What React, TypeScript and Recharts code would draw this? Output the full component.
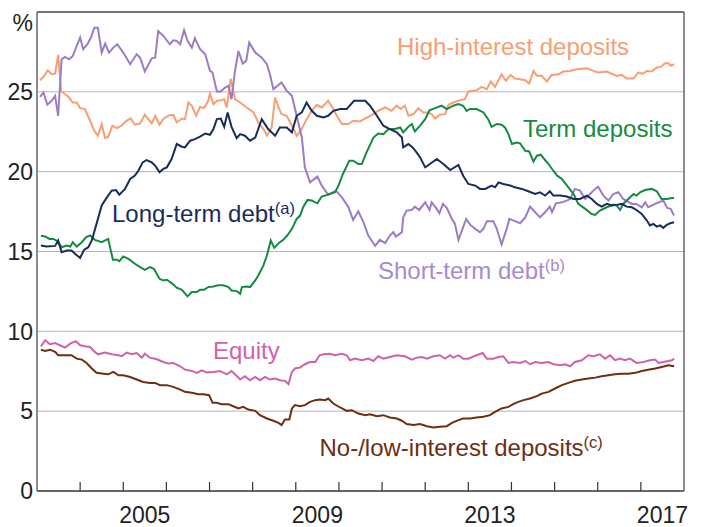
import React from 'react'
import { LineChart, Line, XAxis, YAxis, CartesianGrid, ReferenceLine } from 'recharts'

const W = 717
const H = 527
const LEFT_W = 37
const RIGHT_W = 33
const X_AXIS_H = 36
const TOP = 12
const FONT = '"Liberation Sans", Arial, Helvetica, sans-serif'

const X_DOMAIN: [number, number] = [2003, 2018]
const YEAR_TICKS = [2004, 2005, 2006, 2007, 2008, 2009, 2010, 2011, 2012, 2013, 2014, 2015, 2016, 2017]
const LABEL_YEARS = [2005, 2009, 2013, 2017]
const Y_TICKS = [0, 5, 10, 15, 20, 25, 30]
const GRID_VALUES = [5, 10, 15, 20, 25]

// [year, per cent]
const highInterest: [number, number][] = [
  [2003.07, 25.73], [2003.15, 25.94], [2003.25, 26.35], [2003.34, 26.1], [2003.42, 26.14], [2003.49, 27.31],
  [2003.56, 25.06], [2003.65, 24.85], [2003.73, 24.69], [2003.83, 24.33], [2003.92, 24.33], [2004.0, 23.98],
  [2004.11, 23.92], [2004.23, 23.19], [2004.33, 22.56], [2004.41, 22.25], [2004.5, 22.98], [2004.58, 22.1],
  [2004.65, 22.19], [2004.75, 22.88], [2004.85, 22.73], [2004.96, 22.88], [2005.06, 23.15], [2005.17, 23.35],
  [2005.27, 22.94], [2005.39, 23.02], [2005.5, 23.56], [2005.66, 23.02], [2005.74, 23.5], [2005.84, 22.94],
  [2005.94, 23.33], [2006.07, 23.54], [2006.16, 23.56], [2006.24, 23.08], [2006.36, 23.33], [2006.43, 23.29],
  [2006.51, 24.33], [2006.59, 24.13], [2006.69, 23.5], [2006.78, 24.06], [2006.87, 23.98], [2006.97, 24.44],
  [2007.01, 24.89], [2007.09, 24.23], [2007.17, 24.44], [2007.28, 24.48], [2007.34, 24.54], [2007.4, 24.02],
  [2007.49, 25.83], [2007.59, 24.54], [2007.71, 24.33], [2007.86, 24.02], [2008.02, 23.71], [2008.13, 23.08],
  [2008.25, 22.67], [2008.33, 22.25], [2008.44, 22.77], [2008.52, 24.64], [2008.6, 24.02], [2008.67, 23.6],
  [2008.79, 23.5], [2008.91, 22.88], [2009.02, 22.25], [2009.14, 22.67], [2009.25, 23.29], [2009.37, 23.81],
  [2009.49, 24.19], [2009.6, 24.02], [2009.75, 24.44], [2009.87, 23.92], [2009.95, 23.5], [2010.07, 22.98],
  [2010.22, 22.98], [2010.33, 23.19], [2010.49, 23.15], [2010.61, 23.33], [2010.76, 23.54], [2010.91, 23.81],
  [2011.07, 24.02], [2011.22, 23.81], [2011.34, 24.13], [2011.43, 23.92], [2011.53, 24.13], [2011.61, 23.5],
  [2011.73, 23.6], [2011.84, 23.98], [2011.96, 23.71], [2012.07, 23.71], [2012.15, 23.6], [2012.23, 23.33],
  [2012.34, 23.56], [2012.46, 23.6], [2012.54, 24.19], [2012.65, 24.33], [2012.81, 24.48], [2012.92, 24.54],
  [2013.0, 25.02], [2013.19, 25.1], [2013.31, 25.31], [2013.43, 25.17], [2013.52, 25.65], [2013.62, 25.31],
  [2013.77, 26.1], [2013.87, 25.69], [2013.98, 26.06], [2014.08, 25.83], [2014.2, 25.79], [2014.32, 25.73],
  [2014.41, 25.52], [2014.51, 26.31], [2014.59, 26.0], [2014.7, 26.0], [2014.82, 25.65], [2014.93, 26.06],
  [2015.09, 26.1], [2015.2, 26.27], [2015.36, 26.31], [2015.51, 26.42], [2015.75, 26.48], [2015.9, 26.31],
  [2016.01, 26.21], [2016.21, 26.27], [2016.44, 26.0], [2016.56, 26.06], [2016.67, 25.83], [2016.83, 25.83],
  [2016.94, 26.21], [2017.04, 26.14], [2017.14, 26.31], [2017.25, 26.27], [2017.37, 26.52], [2017.46, 26.56],
  [2017.56, 26.79], [2017.64, 26.79], [2017.7, 26.63], [2017.77, 26.73],
]

const shortTermDebt: [number, number][] = [
  [2003.07, 24.69], [2003.15, 24.96], [2003.24, 24.19], [2003.34, 24.44], [2003.42, 24.75], [2003.49, 23.5],
  [2003.57, 27.04], [2003.65, 27.19], [2003.74, 27.04], [2003.83, 27.25], [2003.92, 27.88], [2004.0, 28.4],
  [2004.07, 27.67], [2004.17, 27.98], [2004.25, 28.4], [2004.33, 29.02], [2004.41, 29.02], [2004.5, 27.46],
  [2004.58, 28.02], [2004.67, 27.46], [2004.77, 27.77], [2004.86, 27.98], [2005.0, 27.46], [2005.16, 26.73],
  [2005.31, 27.35], [2005.39, 27.14], [2005.5, 26.27], [2005.66, 27.1], [2005.74, 27.14], [2005.81, 28.81],
  [2005.93, 28.5], [2006.08, 27.98], [2006.16, 28.23], [2006.24, 28.19], [2006.32, 27.98], [2006.41, 28.86],
  [2006.49, 28.19], [2006.59, 27.77], [2006.66, 28.36], [2006.78, 27.67], [2006.9, 27.35], [2007.01, 26.31],
  [2007.07, 26.21], [2007.17, 25.02], [2007.26, 25.02], [2007.36, 25.27], [2007.44, 25.38], [2007.51, 24.54],
  [2007.59, 26.31], [2007.67, 27.56], [2007.77, 26.77], [2007.85, 26.94], [2007.92, 28.08], [2008.06, 27.46],
  [2008.21, 27.14], [2008.33, 26.73], [2008.4, 26.1], [2008.48, 25.17], [2008.67, 25.58], [2008.79, 25.06],
  [2008.91, 24.75], [2009.02, 23.5], [2009.14, 22.14], [2009.21, 20.27], [2009.33, 19.33], [2009.5, 19.69],
  [2009.6, 19.13], [2009.75, 18.56], [2009.93, 18.81], [2010.07, 18.39], [2010.22, 17.77], [2010.33, 16.98],
  [2010.45, 17.52], [2010.57, 16.83], [2010.68, 16.0], [2010.84, 15.35], [2010.95, 15.73], [2011.07, 15.52],
  [2011.18, 16.0], [2011.26, 16.21], [2011.32, 15.94], [2011.46, 16.21], [2011.49, 17.14], [2011.57, 17.56],
  [2011.69, 17.6], [2011.76, 17.81], [2011.86, 17.6], [2012.0, 18.08], [2012.1, 17.6], [2012.15, 18.08],
  [2012.25, 17.73], [2012.33, 17.39], [2012.41, 17.98], [2012.5, 17.73], [2012.62, 17.04], [2012.69, 16.73],
  [2012.77, 15.73], [2012.85, 16.31], [2012.95, 17.04], [2013.04, 16.68], [2013.16, 16.42], [2013.27, 16.21],
  [2013.35, 16.42], [2013.43, 16.9], [2013.58, 16.9], [2013.66, 16.42], [2013.77, 15.44], [2013.89, 16.42],
  [2013.95, 17.04], [2014.08, 16.9], [2014.2, 16.77], [2014.32, 17.14], [2014.43, 17.81], [2014.55, 17.46],
  [2014.66, 17.14], [2014.78, 17.46], [2014.89, 17.81], [2014.94, 17.46], [2015.03, 18.02], [2015.17, 18.08],
  [2015.28, 18.19], [2015.36, 18.29], [2015.47, 18.92], [2015.59, 18.81], [2015.71, 18.29], [2015.82, 18.6],
  [2015.94, 18.92], [2016.01, 19.06], [2016.13, 18.5], [2016.25, 18.19], [2016.36, 18.6], [2016.48, 18.71],
  [2016.59, 18.29], [2016.79, 17.98], [2016.9, 17.98], [2017.02, 17.77], [2017.1, 18.08], [2017.17, 17.77],
  [2017.33, 17.98], [2017.52, 18.19], [2017.61, 17.73], [2017.69, 17.67], [2017.77, 17.25],
]

const longTermDebt: [number, number][] = [
  [2003.09, 15.38], [2003.22, 15.31], [2003.42, 15.35], [2003.49, 15.69], [2003.57, 14.96], [2003.69, 15.06],
  [2003.8, 15.06], [2003.9, 14.81], [2004.0, 14.6], [2004.09, 15.1], [2004.19, 15.27], [2004.27, 15.69],
  [2004.38, 16.73], [2004.5, 17.88], [2004.62, 18.39], [2004.73, 18.81], [2004.83, 18.85], [2004.91, 18.56],
  [2005.04, 18.92], [2005.16, 19.54], [2005.27, 19.75], [2005.35, 20.06], [2005.45, 20.58], [2005.54, 20.73],
  [2005.66, 20.58], [2005.74, 20.38], [2005.84, 19.96], [2005.93, 20.17], [2006.01, 20.27], [2006.12, 20.79],
  [2006.24, 21.73], [2006.36, 21.56], [2006.43, 21.52], [2006.55, 21.94], [2006.66, 22.04], [2006.78, 22.19],
  [2006.9, 22.39], [2007.01, 22.31], [2007.09, 22.67], [2007.17, 23.29], [2007.26, 23.33], [2007.34, 22.81],
  [2007.42, 23.71], [2007.51, 22.81], [2007.63, 22.1], [2007.71, 22.35], [2007.82, 22.25], [2007.94, 21.94],
  [2008.06, 22.14], [2008.21, 23.29], [2008.36, 22.67], [2008.52, 22.25], [2008.63, 22.77], [2008.79, 22.77],
  [2008.91, 22.46], [2009.02, 23.5], [2009.14, 23.71], [2009.25, 24.33], [2009.37, 23.81], [2009.49, 23.5],
  [2009.64, 23.39], [2009.75, 23.5], [2009.87, 23.81], [2010.03, 23.92], [2010.18, 23.92], [2010.35, 24.44],
  [2010.49, 24.44], [2010.61, 24.44], [2010.72, 24.13], [2010.88, 23.5], [2011.03, 22.88], [2011.18, 22.67],
  [2011.34, 22.46], [2011.46, 22.14], [2011.49, 21.52], [2011.61, 21.73], [2011.71, 21.52], [2011.8, 21.21],
  [2011.88, 20.9], [2012.0, 20.27], [2012.11, 20.48], [2012.27, 20.79], [2012.42, 20.48], [2012.58, 20.1],
  [2012.77, 20.42], [2012.88, 19.75], [2013.0, 19.23], [2013.16, 19.13], [2013.27, 18.92], [2013.39, 18.92],
  [2013.54, 19.13], [2013.62, 19.02], [2013.7, 19.33], [2013.81, 19.23], [2013.97, 19.13], [2014.08, 19.02],
  [2014.24, 18.92], [2014.39, 18.77], [2014.55, 18.6], [2014.66, 18.71], [2014.78, 18.5], [2014.89, 18.77],
  [2014.97, 18.5], [2015.13, 18.5], [2015.28, 18.44], [2015.44, 18.29], [2015.59, 18.29], [2015.75, 18.5],
  [2015.86, 18.29], [2015.98, 17.98], [2016.09, 17.81], [2016.21, 17.98], [2016.33, 17.88], [2016.44, 17.92],
  [2016.56, 17.98], [2016.67, 17.81], [2016.79, 17.77], [2016.9, 17.6], [2017.02, 17.35], [2017.14, 16.94],
  [2017.21, 16.63], [2017.29, 16.73], [2017.37, 16.56], [2017.45, 16.63], [2017.52, 16.48], [2017.6, 16.67],
  [2017.68, 16.77], [2017.77, 16.83],
]

const termDeposits: [number, number][] = [
  [2003.09, 15.98], [2003.19, 15.94], [2003.29, 15.79], [2003.38, 15.79], [2003.47, 15.65], [2003.57, 15.27],
  [2003.69, 15.38], [2003.77, 15.31], [2003.83, 15.58], [2003.92, 15.31], [2004.04, 15.58], [2004.14, 15.9],
  [2004.23, 16.0], [2004.34, 15.73], [2004.5, 15.58], [2004.65, 15.79], [2004.76, 14.48], [2004.86, 14.48],
  [2004.91, 14.39], [2005.0, 14.69], [2005.12, 14.54], [2005.27, 14.23], [2005.39, 14.02], [2005.5, 13.85],
  [2005.62, 14.02], [2005.71, 13.92], [2005.84, 13.29], [2005.93, 13.19], [2006.01, 13.23], [2006.12, 13.02],
  [2006.24, 12.73], [2006.36, 12.6], [2006.49, 12.19], [2006.59, 12.46], [2006.7, 12.46], [2006.78, 12.6],
  [2006.87, 12.6], [2006.97, 12.77], [2007.09, 12.81], [2007.2, 12.88], [2007.32, 12.88], [2007.44, 12.77],
  [2007.51, 12.56], [2007.63, 12.52], [2007.71, 12.35], [2007.75, 12.77], [2007.86, 12.81], [2007.94, 12.77],
  [2008.06, 13.19], [2008.13, 13.5], [2008.25, 14.13], [2008.33, 14.75], [2008.42, 15.69], [2008.5, 15.23],
  [2008.6, 15.52], [2008.71, 15.73], [2008.8, 16.0], [2008.91, 16.42], [2009.02, 17.04], [2009.1, 17.25],
  [2009.17, 17.77], [2009.27, 18.23], [2009.37, 18.19], [2009.5, 18.02], [2009.6, 18.44], [2009.75, 18.56],
  [2009.91, 18.71], [2009.99, 19.13], [2010.09, 19.85], [2010.14, 20.12], [2010.24, 20.69], [2010.33, 20.69],
  [2010.45, 20.48], [2010.53, 20.48], [2010.64, 21.21], [2010.8, 22.14], [2010.91, 22.39], [2011.03, 22.35],
  [2011.15, 22.67], [2011.3, 22.67], [2011.42, 22.77], [2011.49, 22.46], [2011.61, 22.81], [2011.69, 22.98],
  [2011.76, 22.52], [2011.88, 22.88], [2012.0, 23.29], [2012.1, 23.85], [2012.23, 23.98], [2012.38, 24.13],
  [2012.5, 23.92], [2012.65, 24.13], [2012.77, 24.23], [2012.88, 24.13], [2012.96, 23.81], [2013.04, 23.93],
  [2013.19, 23.92], [2013.35, 23.71], [2013.46, 23.29], [2013.54, 22.81], [2013.66, 22.98], [2013.77, 22.94],
  [2013.85, 22.77], [2013.93, 22.35], [2014.01, 21.73], [2014.12, 21.83], [2014.2, 21.77], [2014.32, 21.31],
  [2014.41, 21.27], [2014.51, 20.64], [2014.59, 21.0], [2014.68, 21.06], [2014.78, 20.73], [2014.86, 20.48],
  [2014.97, 20.06], [2015.06, 19.75], [2015.17, 19.54], [2015.32, 19.02], [2015.44, 18.6], [2015.55, 17.98],
  [2015.71, 17.67], [2015.86, 17.35], [2015.94, 17.29], [2016.05, 17.56], [2016.21, 17.77], [2016.36, 17.94],
  [2016.44, 17.88], [2016.52, 17.6], [2016.59, 17.98], [2016.71, 18.29], [2016.83, 18.6], [2016.9, 18.5],
  [2016.98, 18.71], [2017.1, 18.85], [2017.25, 18.92], [2017.37, 18.77], [2017.48, 18.29], [2017.6, 18.29],
  [2017.72, 18.35], [2017.77, 18.35],
]

const equity: [number, number][] = [
  [2003.09, 9.06], [2003.19, 9.44], [2003.3, 9.19], [2003.42, 9.27], [2003.53, 9.13], [2003.65, 8.98],
  [2003.77, 9.23], [2003.9, 9.39], [2004.0, 9.13], [2004.11, 9.06], [2004.23, 9.02], [2004.34, 8.71],
  [2004.42, 8.56], [2004.58, 8.67], [2004.73, 8.56], [2004.89, 8.5], [2004.96, 8.44], [2005.08, 8.67],
  [2005.2, 8.56], [2005.31, 8.64], [2005.43, 8.35], [2005.5, 8.6], [2005.62, 8.35], [2005.78, 8.25],
  [2005.93, 8.08], [2006.04, 7.98], [2006.16, 8.02], [2006.32, 7.81], [2006.43, 7.6], [2006.59, 7.52],
  [2006.7, 7.4], [2006.82, 7.56], [2006.93, 7.42], [2007.09, 7.46], [2007.24, 7.52], [2007.4, 7.31],
  [2007.51, 7.52], [2007.63, 7.2], [2007.71, 6.98], [2007.82, 7.19], [2007.94, 6.94], [2008.06, 7.14],
  [2008.17, 6.94], [2008.29, 7.14], [2008.4, 6.98], [2008.52, 7.04], [2008.63, 6.94], [2008.75, 6.9],
  [2008.83, 6.69], [2008.91, 7.46], [2008.98, 7.67], [2009.1, 7.73], [2009.21, 7.94], [2009.33, 8.08],
  [2009.45, 8.08], [2009.55, 8.5], [2009.64, 8.56], [2009.79, 8.6], [2009.91, 8.5], [2010.07, 8.6],
  [2010.18, 8.5], [2010.26, 8.19], [2010.37, 8.29], [2010.53, 8.19], [2010.68, 8.29], [2010.8, 8.14],
  [2010.91, 8.44], [2011.03, 8.29], [2011.18, 8.39], [2011.34, 8.5], [2011.53, 8.44], [2011.69, 8.23],
  [2011.8, 8.35], [2011.92, 8.39], [2012.04, 8.29], [2012.19, 8.44], [2012.34, 8.5], [2012.46, 8.29],
  [2012.58, 8.5], [2012.65, 8.35], [2012.77, 8.5], [2012.88, 8.29], [2013.0, 8.29], [2013.19, 8.5],
  [2013.33, 8.64], [2013.43, 8.29], [2013.58, 8.29], [2013.7, 8.39], [2013.81, 8.44], [2013.93, 8.02],
  [2014.04, 8.08], [2014.2, 8.02], [2014.32, 8.14], [2014.43, 7.94], [2014.55, 8.08], [2014.7, 8.02],
  [2014.86, 8.08], [2014.97, 7.94], [2015.13, 7.88], [2015.24, 7.94], [2015.36, 7.81], [2015.47, 8.08],
  [2015.63, 8.19], [2015.78, 8.5], [2015.9, 8.44], [2016.05, 8.56], [2016.17, 8.29], [2016.29, 8.5],
  [2016.4, 8.19], [2016.52, 8.29], [2016.63, 8.19], [2016.75, 8.29], [2016.9, 8.02], [2017.06, 8.08],
  [2017.21, 8.19], [2017.33, 8.23], [2017.41, 8.02], [2017.52, 8.08], [2017.64, 8.14], [2017.72, 8.19],
  [2017.77, 8.29],
]

const noLowInterest: [number, number][] = [
  [2003.09, 8.85], [2003.19, 8.77], [2003.3, 8.85], [2003.42, 8.71], [2003.49, 8.5], [2003.65, 8.5],
  [2003.8, 8.5], [2003.92, 8.29], [2004.04, 8.23], [2004.15, 8.02], [2004.27, 7.67], [2004.38, 7.4],
  [2004.54, 7.35], [2004.65, 7.31], [2004.77, 7.46], [2004.89, 7.25], [2005.0, 7.25], [2005.16, 7.14],
  [2005.31, 6.98], [2005.46, 6.83], [2005.62, 6.77], [2005.74, 6.77], [2005.85, 6.63], [2006.01, 6.63],
  [2006.16, 6.52], [2006.32, 6.35], [2006.43, 6.21], [2006.59, 6.15], [2006.74, 6.06], [2006.86, 6.06],
  [2006.99, 6.0], [2007.07, 5.52], [2007.17, 5.52], [2007.28, 5.44], [2007.44, 5.44], [2007.55, 5.31],
  [2007.67, 5.17], [2007.78, 5.27], [2007.9, 5.1], [2008.06, 5.02], [2008.17, 4.75], [2008.33, 4.54],
  [2008.48, 4.4], [2008.6, 4.27], [2008.67, 4.13], [2008.75, 4.48], [2008.85, 4.48], [2008.91, 5.17],
  [2008.98, 5.38], [2009.1, 5.31], [2009.21, 5.38], [2009.33, 5.58], [2009.45, 5.69], [2009.56, 5.73],
  [2009.68, 5.69], [2009.75, 5.79], [2009.87, 5.48], [2010.03, 5.23], [2010.18, 5.02], [2010.3, 5.06],
  [2010.45, 4.85], [2010.61, 4.75], [2010.72, 4.81], [2010.88, 4.69], [2011.03, 4.75], [2011.18, 4.6],
  [2011.34, 4.54], [2011.46, 4.4], [2011.57, 4.19], [2011.73, 4.13], [2011.88, 4.19], [2012.04, 4.06],
  [2012.19, 3.98], [2012.34, 4.02], [2012.5, 4.06], [2012.62, 4.27], [2012.77, 4.44], [2012.88, 4.54],
  [2013.04, 4.54], [2013.19, 4.6], [2013.35, 4.65], [2013.5, 4.75], [2013.62, 4.96], [2013.77, 5.17],
  [2013.93, 5.27], [2014.04, 5.44], [2014.16, 5.58], [2014.28, 5.69], [2014.43, 5.79], [2014.59, 5.94],
  [2014.7, 6.1], [2014.86, 6.21], [2015.01, 6.42], [2015.17, 6.63], [2015.32, 6.77], [2015.47, 6.9],
  [2015.63, 6.98], [2015.78, 7.04], [2015.94, 7.1], [2016.09, 7.19], [2016.25, 7.25], [2016.4, 7.31],
  [2016.56, 7.35], [2016.71, 7.35], [2016.87, 7.4], [2017.02, 7.52], [2017.17, 7.6], [2017.33, 7.67],
  [2017.48, 7.77], [2017.64, 7.88], [2017.77, 7.81],
]

const SERIES = [
  { name: 'Equity', data: equity, color: '#d062a9' },
  { name: 'No-/low-interest deposits', data: noLowInterest, color: '#6e2e14' },
  { name: 'High-interest deposits', data: highInterest, color: '#f89e73' },
  { name: 'Short-term debt', data: shortTermDebt, color: '#9b7cc5' },
  { name: 'Term deposits', data: termDeposits, color: '#168a40' },
  { name: 'Long-term debt', data: longTermDebt, color: '#172d5c' },
]

const toRows = (pts: [number, number][]) => pts.map(([t, v]) => ({ t, v }))

const PLOT_W = W - LEFT_W - RIGHT_W
const YEAR_PX = PLOT_W / (X_DOMAIN[1] - X_DOMAIN[0])

const XTick = (props: any) => {
  const { x, y, payload } = props
  const year = payload.value as number
  return (
    <g>
      <line x1={x} x2={x} y1={y} y2={y - 9} stroke="#333" strokeWidth={1.2} />
      {LABEL_YEARS.includes(year) && (
        <text x={x + YEAR_PX / 2} y={y + 32} textAnchor="middle" fontSize={23} fontFamily={FONT} fill="#222">
          {year}
        </text>
      )}
    </g>
  )
}

const YTick = (props: any) => {
  const { x, y, payload, side } = props
  const top = payload.value === 30
  return (
    <text
      x={x}
      y={top ? y + 11 : y}
      dy="0.36em"
      textAnchor={side === 'left' ? 'end' : 'start'}
      fontSize={23}
      fontFamily={FONT}
      fill="#222"
    >
      {top ? '%' : payload.value}
    </text>
  )
}

export default function App() {
  return (
    <div style={{ position: 'absolute', left: 0, top: 0, width: W, height: H, background: '#fff' }}>
      <LineChart width={W} height={H} margin={{ top: TOP, right: 0, left: 0, bottom: 0 }}>
        <CartesianGrid
          yAxisId="left"
          vertical={false}
          horizontalValues={GRID_VALUES}
          stroke="#b5b5b5"
          strokeWidth={1}
        />
        <XAxis
          dataKey="t"
          type="number"
          domain={X_DOMAIN}
          ticks={YEAR_TICKS}
          interval={0}
          allowDataOverflow
          height={X_AXIS_H}
          tickLine={false}
          tickSize={0}
          tickMargin={0}
          tick={(p: any) => <XTick {...p} />}
          axisLine={{ stroke: '#333', strokeWidth: 1.5 }}
        />
        <YAxis
          yAxisId="left"
          orientation="left"
          width={LEFT_W}
          domain={[0, 30]}
          ticks={Y_TICKS}
          interval={0}
          tickLine={false}
          tickSize={0}
          tickMargin={4}
          tick={(p: any) => <YTick {...p} side="left" />}
          axisLine={{ stroke: '#666', strokeWidth: 1.5 }}
        />
        <YAxis
          yAxisId="right"
          orientation="right"
          width={RIGHT_W}
          domain={[0, 30]}
          ticks={Y_TICKS}
          interval={0}
          tickLine={false}
          tickSize={0}
          tickMargin={4}
          tick={(p: any) => <YTick {...p} side="right" />}
          axisLine={{ stroke: '#666', strokeWidth: 1.5 }}
        />
        <ReferenceLine yAxisId="left" y={30} stroke="#444" strokeWidth={1.5} />
        {SERIES.map((s) => (
          <Line
            key={s.name}
            yAxisId="left"
            data={toRows(s.data)}
            dataKey="v"
            name={s.name}
            type="linear"
            stroke={s.color}
            strokeWidth={2}
            dot={false}
            activeDot={false}
            isAnimationActive={false}
          />
        ))}
      </LineChart>
      <svg
        width={W}
        height={H}
        style={{ position: 'absolute', left: 0, top: 0, pointerEvents: 'none' }}
        fontFamily={FONT}
        fontSize={24}
      >
        <text x={397} y={55} fill="#f89e73">High-interest deposits</text>
        <text x={523} y={137} fill="#168a40">Term deposits</text>
        <text x={112} y={221.5} fill="#172d5c">
          Long-term debt<tspan fontSize={16.5} dy={-8}>(a)</tspan>
        </text>
        <text x={378} y={279} fill="#a78bd0">
          Short-term debt<tspan fontSize={16.5} dy={-8}>(b)</tspan>
        </text>
        <text x={213} y={359} fill="#d062a9">Equity</text>
        <text x={319.5} y={455.5} fill="#6e2e14">
          No-/low-interest deposits<tspan fontSize={16.5} dy={-8}>(c)</tspan>
        </text>
      </svg>
    </div>
  )
}
